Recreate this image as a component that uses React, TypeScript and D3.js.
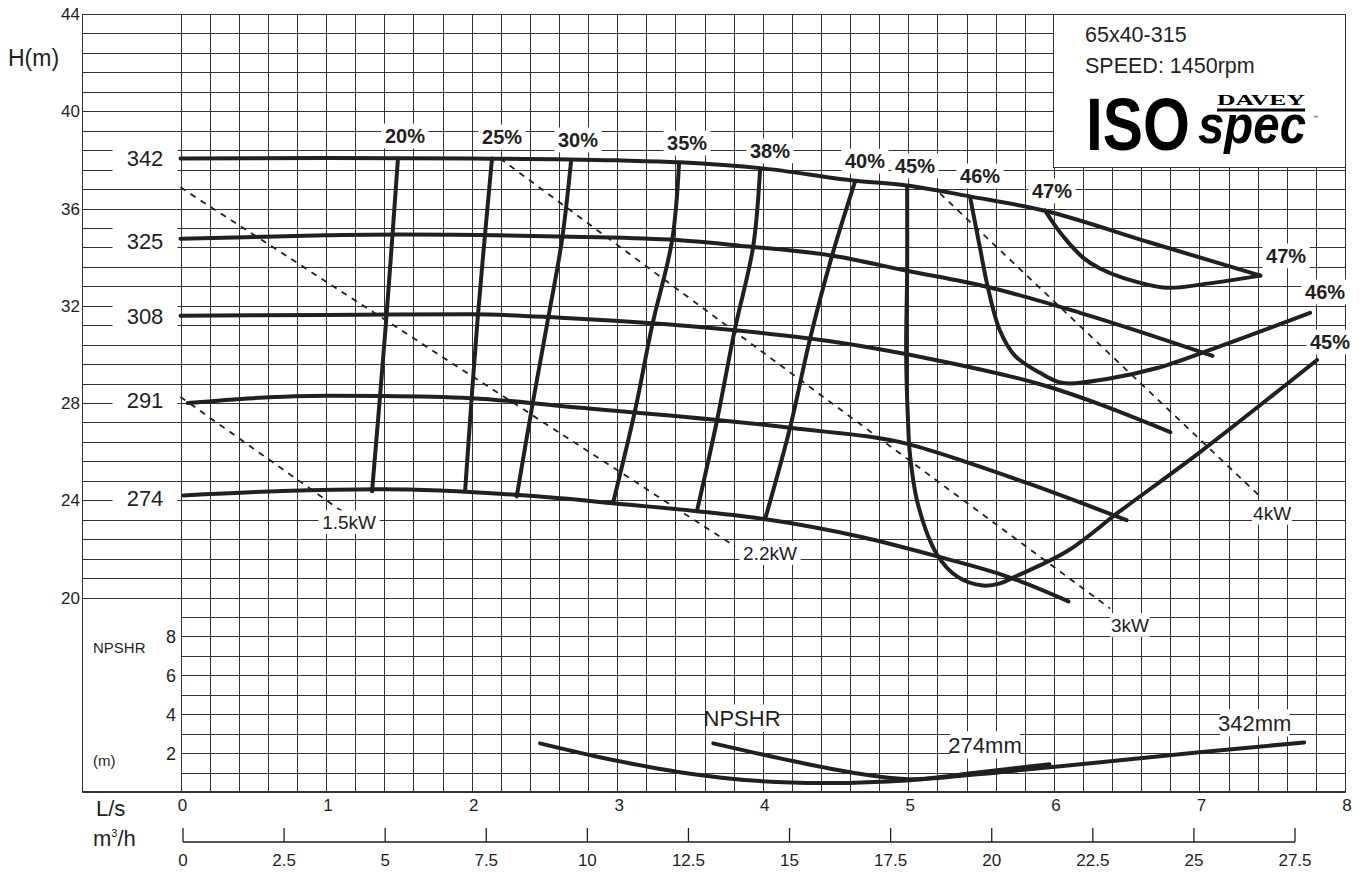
import React from 'react';
import * as d3 from 'd3';

// ---------- axis ticks ----------
const lsTicks = [0, 1, 2, 3, 4, 5, 6, 7, 8];
const m3hTicks = [0, 2.5, 5, 7.5, 10, 12.5, 15, 17.5, 20, 22.5, 25, 27.5];
const m3hLabels = ['0', '2.5', '5', '7.5', '10', '12.5', '15', '17.5', '20', '22.5', '25', '27.5'];
const headTicks = [20, 24, 28, 32, 36, 40, 44];
const npshTicks = [2, 4, 6, 8];

// ---------- impeller head curves [L/s, m] ----------
const head342: [number, number][] = [[0, 38.06], [1, 38.08], [2, 38.06], [3, 37.98], [3.43, 37.9], [4, 37.65], [4.62, 37.15], [4.99, 36.95], [5.42, 36.5], [5.93, 35.92], [6.66, 34.6], [7.42, 33.24]];
const head325: [number, number][] = [[0, 34.76], [1, 34.9], [1.5, 34.93], [2.6, 34.85], [3.36, 34.72], [3.84, 34.47], [4.48, 34.06], [4.99, 33.44], [5.54, 32.78], [6.18, 31.71], [7.09, 29.94]];
const head308: [number, number][] = [[0, 31.59], [1, 31.62], [2, 31.65], [2.61, 31.51], [3.98, 30.89], [4.44, 30.56], [5.22, 29.73], [5.9, 28.78], [6.8, 26.8]];
const head291: [number, number][] = [[0.05, 28.0], [0.5, 28.2], [1, 28.3], [1.4, 28.29], [2, 28.2], [2.61, 27.88], [4.2, 26.97], [5, 26.31], [5.42, 25.53], [5.82, 24.7], [6.5, 23.18]];
const head274: [number, number][] = [[0.02, 24.2], [0.7, 24.38], [1.37, 24.45], [2.61, 24.08], [2.97, 23.88], [3.55, 23.55], [4.02, 23.22], [4.67, 22.5], [5.2, 21.69], [5.7, 20.82], [6.1, 19.84]];
const impellerNames = ['342', '325', '308', '291', '274'];
const impellerLabelH = [38.08, 34.66, 31.58, 28.12, 24.09];

// ---------- iso-efficiency curves [L/s, m] ----------
const eff20: [number, number][] = [[1.494, 38.06], [1.41, 31.18], [1.316, 24.37]];
const eff25: [number, number][] = [[2.14, 38.06], [2.04, 31.38], [1.955, 24.37]];
const eff30: [number, number][] = [[2.683, 37.94], [2.62, 34.68], [2.525, 31.46], [2.42, 28.0], [2.31, 24.16]];
const eff35: [number, number][] = [[3.425, 37.86], [3.377, 34.68], [3.24, 31.18], [3.122, 27.67], [2.971, 23.88]];
const eff38: [number, number][] = [[3.981, 37.53], [3.933, 34.39], [3.809, 31.05], [3.685, 27.26], [3.548, 23.55]];
const eff40: [number, number][] = [[4.634, 37.11], [4.476, 34.06], [4.325, 30.64], [4.187, 26.97], [4.016, 23.22]];
const eff45: [number, number][] = [[4.992, 36.91], [4.992, 33.44], [4.985, 30.02], [4.998, 27.26], [5.011, 25.9], [5.066, 23.84], [5.197, 21.77], [5.334, 20.87], [5.513, 20.49], [5.63, 20.58], [5.72, 20.82], [6.09, 21.9], [6.454, 23.55], [7.004, 25.98], [7.808, 29.77]];
const eff46: [number, number][] = [[5.424, 36.49], [5.492, 34.39], [5.547, 32.74], [5.63, 30.97], [5.733, 29.94], [5.905, 29.24], [6.063, 28.82], [6.365, 28.99], [6.709, 29.44], [7.093, 30.23], [7.76, 31.71]];
const eff47: [number, number][] = [[5.939, 35.92], [5.994, 35.42], [6.077, 34.76], [6.2, 33.98], [6.317, 33.53], [6.475, 33.15], [6.777, 32.74], [7.052, 32.91], [7.416, 33.24]];
const effNames = ['20%', '25%', '30%', '35%', '38%', '40%', '45%', '46%', '47%'];
const effLabelQ = [1.542, 2.209, 2.731, 3.48, 4.05, 4.702, 5.046, 5.493, 5.987];
const effLabelH = [38.98, 38.94, 38.82, 38.69, 38.37, 37.95, 37.75, 37.34, 36.72];
const effEndNames = ['47%', '46%', '45%'];
const effEndQ = [7.595, 7.863, 7.897];
const effEndH = [34.05, 32.57, 30.51];

// ---------- power lines [L/s, m] ----------
const kw15: [number, number][] = [[0, 28.25], [1.13, 23.46]];
const kw22: [number, number][] = [[0, 36.87], [3.81, 22.1]];
const kw30: [number, number][] = [[2.195, 38.06], [6.386, 19.55]];
const kw40: [number, number][] = [[5.218, 36.62], [7.43, 24.08]];
const kwNames = ['1.5kW', '2.2kW', '3kW', '4kW'];
const kwLabelQ = [1.158, 4.05, 6.523, 7.499];
const kwLabelH = [23.1, 21.83, 18.87, 23.48];

// ---------- NPSHR curves [L/s, m] ----------
const npsh342: [number, number][] = [[2.47, 2.5], [2.88, 1.79], [3.43, 1.02], [3.98, 0.56], [4.46, 0.46], [5.01, 0.61], [5.63, 1.02], [6.32, 1.53], [7.0, 2.04], [7.72, 2.55]];
const npsh274: [number, number][] = [[3.66, 2.5], [4.12, 1.73], [4.6, 1.02], [5.01, 0.66], [5.49, 1.02], [5.97, 1.43]];
const npshLabelNames = ['NPSHR', '274mm', '342mm'];
const npshLabelQ = [3.858, 5.527, 7.38];
const npshLabelN = [3.8, 2.42, 3.55];

const FONT = "'Liberation Sans', Arial, Helvetica, sans-serif";
const INK = '#231f20';
const GRID = '#333333';

const x = d3.scaleLinear().domain([0, 8]).range([180.5, 1345]);
const yH = d3.scaleLinear().domain([20, 44]).range([597.5, 14]);
const yN = d3.scaleLinear().domain([0, 10]).range([792, 597.5]);
const xM = d3.scaleLinear().domain([0, 27.5]).range([183, 1295]);
const px = (v: number) => Math.round(v) + 0.5;

const lineH = d3.line<[number, number]>().x(d => x(d[0])).y(d => yH(d[1])).curve(d3.curveMonotoneX);
const lineE = d3.line<[number, number]>().x(d => x(d[0])).y(d => yH(d[1])).curve(d3.curveCatmullRom.alpha(0.5));
const lineStraight = d3.line<[number, number]>().x(d => x(d[0])).y(d => yH(d[1]));
const lineN = d3.line<[number, number]>().x(d => x(d[0])).y(d => yN(d[1])).curve(d3.curveCatmullRom.alpha(0.5));

function Label({ cx, cy, text, size, bold = false, pad = 4 }: { cx: number; cy: number; text: string; size: number; bold?: boolean; pad?: number }) {
  const w = text.length * size * (bold ? 0.62 : 0.56);
  return (
    <g>
      <rect x={cx - w / 2 - pad} y={cy - size * 0.62} width={w + 2 * pad} height={size * 1.24} fill="#fff" />
      <text x={cx} y={cy} dy="0.36em" textAnchor="middle" fontSize={size} fontWeight={bold ? 'bold' : 'normal'} fill={INK}>{text}</text>
    </g>
  );
}

export default function App() {
  const heads = [head342, head325, head308, head291, head274];
  const effs = [eff20, eff25, eff30, eff35, eff38, eff40, eff45, eff46, eff47];
  const kws = [kw15, kw22, kw30, kw40];
  const vLines = d3.range(0, 40.5, 1).map(i => i * 0.2);
  const hUpper = d3.range(0, 31).map(k => 44 - 0.8 * k);
  const hLower = d3.range(0, 10);
  const left = 82.5;
  const right = px(x(8));

  return (
    <svg width={1364} height={872} style={{ position: 'absolute', left: 0, top: 0, background: '#fff' }} fontFamily={FONT}>
      <rect width={1364} height={872} fill="#fff" />
      {/* grid */}
      <g stroke={GRID} strokeWidth={1}>
        {vLines.map((q, i) => <line key={'v' + i} x1={px(x(q))} x2={px(x(q))} y1={14} y2={792} />)}
        {hUpper.map((h, i) => <line key={'hu' + i} x1={left} x2={right} y1={px(yH(h))} y2={px(yH(h))} />)}
        {hLower.map((n, i) => <line key={'hl' + i} x1={px(x(0))} x2={right} y1={px(yN(n))} y2={px(yN(n))} />)}
        <line x1={left} x2={left} y1={14} y2={792.5} />
        <line x1={left} x2={right} y1={792} y2={792} strokeWidth={2} />
      </g>

      {/* legend box */}
      <rect x={1053.5} y={14.5} width={right - 1053.5} height={153} fill="#fff" stroke={GRID} strokeWidth={1} />
      <text x={1085} y={42} fontSize={21.5} fill={INK}>65x40-315</text>
      <text x={1085} y={73} fontSize={21.5} fill={INK}>SPEED: 1450rpm</text>
      <text x={1086} y={150} fontSize={74} fontWeight="bold" fill="#000" textLength={104} lengthAdjust="spacingAndGlyphs">ISO</text>
      <text x={1217} y={105} fontSize={14} fontWeight="bold" fontFamily="'Liberation Serif', serif" fill="#000" textLength={88} lengthAdjust="spacingAndGlyphs">DAVEY</text>
      <line x1={1217} x2={1305} y1={110} y2={110} stroke="#000" strokeWidth={3} />
      <text x={1198} y={143} fontSize={54} fontWeight="bold" fontStyle="italic" fill="#000" textLength={108} lengthAdjust="spacingAndGlyphs">spec</text>
      <text x={1313} y={119} fontSize={5} fill="#000">™</text>

      {/* power lines */}
      <g fill="none" stroke={INK} strokeWidth={1.8} strokeDasharray="6 6">
        {kws.map((d, i) => <path key={'k' + i} d={lineStraight(d) || ''} />)}
      </g>

      {/* head curves */}
      <g fill="none" stroke={INK} strokeWidth={4} strokeLinecap="round">
        {heads.map((d, i) => <path key={'h' + i} d={lineH(d) || ''} />)}
        {effs.map((d, i) => <path key={'e' + i} d={lineE(d) || ''} />)}
        <path d={lineN(npsh342) || ''} />
        <path d={lineN(npsh274) || ''} />
      </g>

      {/* impeller labels */}
      {impellerNames.map((n, i) => (
        <Label key={'il' + i} cx={145} cy={yH(impellerLabelH[i])} text={n} size={22} pad={14} />
      ))}
      {/* efficiency labels */}
      {effNames.map((n, i) => (
        <Label key={'el' + i} cx={x(effLabelQ[i])} cy={yH(effLabelH[i])} text={n} size={20} bold pad={5} />
      ))}
      {effEndNames.map((n, i) => (
        <Label key={'ee' + i} cx={x(effEndQ[i])} cy={yH(effEndH[i])} text={n} size={20} bold pad={5} />
      ))}
      {/* power labels */}
      {kwNames.map((n, i) => (
        <Label key={'kl' + i} cx={x(kwLabelQ[i])} cy={yH(kwLabelH[i])} text={n} size={19} pad={4} />
      ))}
      {/* NPSHR labels */}
      {npshLabelNames.map((n, i) => (
        <Label key={'nl' + i} cx={x(npshLabelQ[i])} cy={yN(npshLabelN[i])} text={n} size={22} pad={4} />
      ))}

      {/* head axis */}
      <text x={8} y={66} fontSize={23} fill={INK}>H(m)</text>
      {headTicks.map(v => (
        <text key={'ht' + v} x={80} y={yH(v)} dy="0.36em" textAnchor="end" fontSize={17} fill={INK}>{v}</text>
      ))}
      {/* npshr axis */}
      <text x={93} y={653} fontSize={15} fill={INK}>NPSHR</text>
      <text x={93} y={766} fontSize={15} fill={INK}>(m)</text>
      {npshTicks.map(v => (
        <text key={'nt' + v} x={176} y={yN(v)} dy="0.36em" textAnchor="end" fontSize={18} fill={INK}>{v}</text>
      ))}

      {/* L/s axis */}
      <text x={96} y={816} fontSize={22} fill={INK}>L/s</text>
      {lsTicks.map(v => (
        <text key={'lt' + v} x={x(v) + 2} y={805} dy="0.36em" textAnchor="middle" fontSize={17} fill={INK}>{v}</text>
      ))}
      {/* m3/h axis */}
      <text x={93} y={846} fontSize={22} fill={INK}>m<tspan fontSize={11} dy={-9}>3</tspan><tspan dy={9}>/h</tspan></text>
      <g stroke={INK} strokeWidth={1.3}>
        <line x1={xM(0)} x2={xM(27.5)} y1={842} y2={842} />
        {m3hTicks.map(v => <line key={'mt' + v} x1={xM(v)} x2={xM(v)} y1={828} y2={842} />)}
      </g>
      {m3hTicks.map((v, i) => (
        <text key={'ml' + v} x={xM(v)} y={860} dy="0.36em" textAnchor="middle" fontSize={17} fill={INK}>{m3hLabels[i]}</text>
      ))}
    </svg>
  );
}
